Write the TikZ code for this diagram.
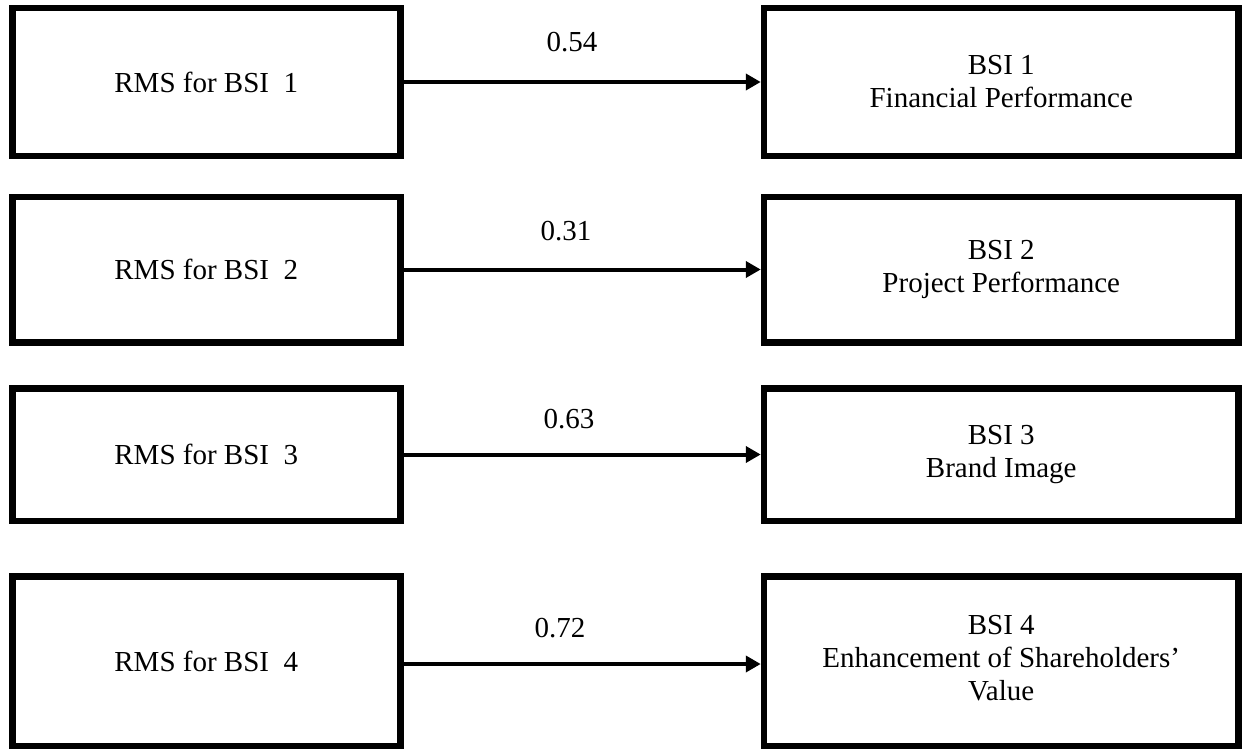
\documentclass[tikz,border=0pt]{standalone}
\usepackage{fontspec}
\setmainfont{Liberation Serif}
\usetikzlibrary{arrows.meta}
\tikzset{
  box/.style={draw=black, line width=6.5pt, fill=white, align=center,
    font=\fontsize{29}{33}\selectfont, inner sep=0pt},
  lbox/.style={box, minimum width=388pt},
  rbox/.style={box, minimum width=474.5pt},
  link/.style={line width=4pt, -{Triangle[length=15pt,width=16pt]}},
  weight/.style={font=\fontsize{29}{33}\selectfont, anchor=base, inner sep=0pt}
}
\begin{document}
\begin{tikzpicture}[x=1pt,y=-1pt]
\useasboundingbox (0,0) rectangle (1244,749);
\node[lbox, minimum height=147.5pt] (l1) at (206.25,82) {RMS for BSI~~1};
\node[lbox, minimum height=145.5pt] (l2) at (206.25,269.5) {RMS for BSI~~2};
\node[lbox, minimum height=132.5pt] (l3) at (206.25,454.5) {RMS for BSI~~3};
\node[lbox, minimum height=169.5pt] (l4) at (206.25,661) {\raisebox{-3pt}{RMS for BSI~~4}};
\node[rbox, minimum height=147.5pt] (r1) at (1001.25,82) {BSI 1\\Financial Performance};
\node[rbox, minimum height=145.5pt] (r2) at (1001.25,269.5) {BSI 2\\Project Performance};
\node[rbox, minimum height=132.5pt] (r3) at (1001.25,454.5) {BSI 3\\Brand Image};
\node[rbox, minimum height=169.5pt] (r4) at (1001.25,661) {\raisebox{-3pt}{\begin{tabular}{@{}c@{}}BSI 4\\Enhancement of Shareholders’\\Value\end{tabular}}};
\draw[link] (l1.east) -- (r1.west);
\draw[link] (l2.east) -- (r2.west);
\draw[link] (l3.east) -- (r3.west);
\draw[link] ([yshift=-3pt]l4.east) -- ([yshift=-3pt]r4.west);
\node[weight] (w1) at (572,52) {0.54};
\node[weight] (w2) at (566,240) {0.31};
\node[weight] (w3) at (569,428) {0.63};
\node[weight] (w4) at (560,637) {0.72};
\end{tikzpicture}
\end{document}
